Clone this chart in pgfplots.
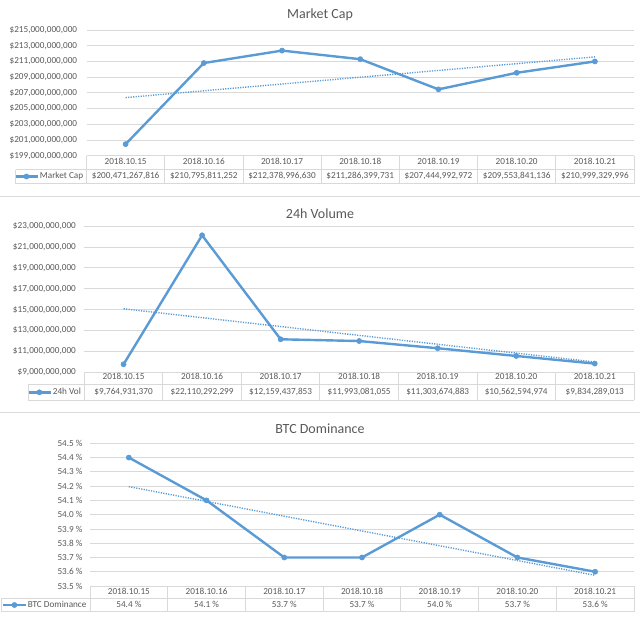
\documentclass[border=0pt]{standalone}
\usepackage{pgfplots}
\pgfplotsset{compat=1.18}
\usepackage{fontspec}
\setmainfont{Carlito}
\definecolor{exblue}{HTML}{5B9BD5}
\definecolor{exgrid}{HTML}{D9D9D9}
\definecolor{extext}{HTML}{595959}
\tikzset{val/.style={font=\fontsize{9.2}{10}\selectfont, text=extext, inner sep=0pt, anchor=center, text height=6pt, text depth=1.5pt}}
\pgfplotsset{
  excel/.style={
    scale only axis, anchor=south west, xmin=0.5, xmax=7.5, clip=false,
    scaled y ticks=false,
    axis line style={draw=none}, major tick length=0pt,
    ymajorgrids, major grid style={exgrid, line width=0.8pt},
    xtick={1,2,3,4,5,6,7},
    xticklabels={2018.10.15,2018.10.16,2018.10.17,2018.10.18,2018.10.19,2018.10.20,2018.10.21},
    tick label style={font=\fontsize{9.2}{10}\selectfont, text=extext, inner sep=0pt},
    xticklabel style={anchor=center, text height=6pt, text depth=1.5pt},
    yticklabel style={anchor=east},
    /pgf/number format/assume math mode=true,
    legend image code/.code={\draw[mark repeat=2,mark phase=2,##1] plot coordinates {(0pt,0pt) (11.5pt,0pt) (23pt,0pt)};},
    legend style={draw=none, fill=none, anchor=east, inner sep=0pt, outer sep=0pt,
      font=\fontsize{9.2}{10}\selectfont, text=extext,
      nodes={inner sep=0.8pt, text height=6pt, text depth=1.5pt},
      /tikz/every even column/.append style={column sep=0pt}},
  },
  series/.style={exblue, line width=2.4pt, mark=*, mark size=2.6pt, mark options={fill=exblue, draw=exblue, line width=0.5pt}},
  trend/.style={exblue, line width=1.4pt, dash pattern=on 1.2pt off 1.3pt, forget plot},
}
\begin{document}
\begin{tikzpicture}
\useasboundingbox (0pt,0pt) rectangle (640pt,-625pt);
% ---------------- Market Cap ----------------
\begin{axis}[excel, at={(86.5pt,-155.7pt)}, width=547.5pt, height=125.7pt,
  ymin=199e9, ymax=215e9,
  ytick={199e9,201e9,203e9,205e9,207e9,209e9,211e9,213e9,215e9},
  yticklabels={{\$199,000,000,000},{\$201,000,000,000},{\$203,000,000,000},{\$205,000,000,000},{\$207,000,000,000},{\$209,000,000,000},{\$211,000,000,000},{\$213,000,000,000},{\$215,000,000,000}},
  yticklabel style={xshift=-9.2pt},
  xticklabel style={yshift=-6.8pt},
  legend style={at={(-0.0046,-0.1655)}},
]
\addplot[series] coordinates {(1,200471267816) (2,210795811252) (3,212378996630) (4,211286399731) (5,207444992972) (6,209553841136) (7,210999329996)};
\addlegendentry{Market Cap}
\addplot[trend] coordinates {(1,206400851000) (7,211579331000)};
\node[val, yshift=-20.8pt] at (axis cs:1,199e9) {\$200,471,267,816};
\node[val, yshift=-20.8pt] at (axis cs:2,199e9) {\$210,795,811,252};
\node[val, yshift=-20.8pt] at (axis cs:3,199e9) {\$212,378,996,630};
\node[val, yshift=-20.8pt] at (axis cs:4,199e9) {\$211,286,399,731};
\node[val, yshift=-20.8pt] at (axis cs:5,199e9) {\$207,444,992,972};
\node[val, yshift=-20.8pt] at (axis cs:6,199e9) {\$209,553,841,136};
\node[val, yshift=-20.8pt] at (axis cs:7,199e9) {\$210,999,329,996};
\end{axis}
% ---------------- 24h Volume ----------------
\begin{axis}[excel, at={(84.3pt,-372.3pt)}, width=549.7pt, height=146.3pt,
  ymin=9e9, ymax=23e9,
  ytick={9e9,11e9,13e9,15e9,17e9,19e9,21e9,23e9},
  yticklabels={{\$9,000,000,000},{\$11,000,000,000},{\$13,000,000,000},{\$15,000,000,000},{\$17,000,000,000},{\$19,000,000,000},{\$21,000,000,000},{\$23,000,000,000}},
  yticklabel style={xshift=-8.3pt},
  xticklabel style={yshift=-5.4pt},
  legend style={at={(-0.0047,-0.1367)}},
]
\addplot[series] coordinates {(1,9764931370) (2,22110292299) (3,12159437853) (4,11993081055) (5,11303674883) (6,10562594974) (7,9834289013)};
\addlegendentry{24h Vol}
\addplot[trend] coordinates {(1,15076515000) (7,9988713000)};
\node[val, yshift=-20pt] at (axis cs:1,9e9) {\$9,764,931,370};
\node[val, yshift=-20pt] at (axis cs:2,9e9) {\$22,110,292,299};
\node[val, yshift=-20pt] at (axis cs:3,9e9) {\$12,159,437,853};
\node[val, yshift=-20pt] at (axis cs:4,9e9) {\$11,993,081,055};
\node[val, yshift=-20pt] at (axis cs:5,9e9) {\$11,303,674,883};
\node[val, yshift=-20pt] at (axis cs:6,9e9) {\$10,562,594,974};
\node[val, yshift=-20pt] at (axis cs:7,9e9) {\$9,834,289,013};
\end{axis}
% ---------------- BTC Dominance ----------------
\begin{axis}[excel, at={(90pt,-586pt)}, width=544pt, height=142.7pt,
  ymin=53.5, ymax=54.5,
  ytick={53.5,53.6,53.7,53.8,53.9,54.0,54.1,54.2,54.3,54.4,54.5},
  yticklabels={{53.5 \%},{53.6 \%},{53.7 \%},{53.8 \%},{53.9 \%},{54.0 \%},{54.1 \%},{54.2 \%},{54.3 \%},{54.4 \%},{54.5 \%}},
  yticklabel style={xshift=-7.3pt},
  xticklabel style={yshift=-6.5pt},
  legend style={at={(-0.005,-0.1331)}},
]
\addplot[series] coordinates {(1,54.4) (2,54.1) (3,53.7) (4,53.7) (5,54.0) (6,53.7) (7,53.6)};
\addlegendentry{BTC Dominance}
\addplot[trend] coordinates {(1,54.196429) (7,53.575)};
\node[val, yshift=-19pt] at (axis cs:1,53.5) {54.4 \%};
\node[val, yshift=-19pt] at (axis cs:2,53.5) {54.1 \%};
\node[val, yshift=-19pt] at (axis cs:3,53.5) {53.7 \%};
\node[val, yshift=-19pt] at (axis cs:4,53.5) {53.7 \%};
\node[val, yshift=-19pt] at (axis cs:5,53.5) {54.0 \%};
\node[val, yshift=-19pt] at (axis cs:6,53.5) {53.7 \%};
\node[val, yshift=-19pt] at (axis cs:7,53.5) {53.6 \%};
\end{axis}
% ---------------- decorations: titles, tables, separators ----------------
\begin{scope}[x=1pt, y=1pt]
\node[font=\fontsize{14}{16}\selectfont, text=extext, anchor=base, inner sep=0pt] at (320,-18.3) {Market Cap};
\node[font=\fontsize{14}{16}\selectfont, text=extext, anchor=base, inner sep=0pt] at (320,-218.3) {24h Volume};
\node[font=\fontsize{14}{16}\selectfont, text=extext, anchor=base, inner sep=0pt] at (320,-433.3) {BTC Dominance};
\draw[exgrid, line width=1pt] (0,-196.5) -- (640,-196.5);
\draw[exgrid, line width=1pt] (0,-412) -- (640,-412);
\begin{scope}[exgrid, line width=0.8pt]
% table 1
\foreach \i in {0,...,7} \draw ({86.5+\i*78.214},-155.7) -- ({86.5+\i*78.214},-183.5);
\draw (15.7,-169.5) -- (634,-169.5);
\draw (15.7,-183.5) -- (634,-183.5);
\draw (15.7,-169.5) -- (15.7,-183.5);
% table 2
\foreach \i in {0,...,7} \draw ({84.3+\i*78.529},-372.3) -- ({84.3+\i*78.529},-400);
\draw (28.3,-384.3) -- (634,-384.3);
\draw (28.3,-400) -- (634,-400);
\draw (28.3,-384.3) -- (28.3,-400);
% table 3
\foreach \i in {0,...,7} \draw ({90+\i*77.714},-586) -- ({90+\i*77.714},-611.7);
\draw (1,-598.3) -- (634,-598.3);
\draw (1,-611.7) -- (634,-611.7);
\draw (1,-598.3) -- (1,-611.7);
\end{scope}
\end{scope}
\end{tikzpicture}
\end{document}
